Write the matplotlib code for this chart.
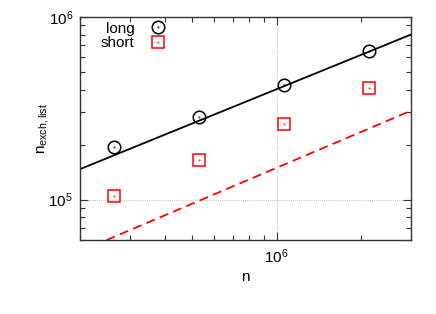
import numpy as np
import matplotlib
matplotlib.use("Agg")
import matplotlib.pyplot as plt
from matplotlib.ticker import LogLocator, NullFormatter

plt.rcParams['font.family'] = ['Liberation Sans', 'DejaVu Sans']
plt.rcParams['mathtext.default'] = 'regular'

# measured points
n_values = [2.65e5, 5.3e5, 1.06e6, 2.13e6]
long_counts = [1.93e5, 2.84e5, 4.25e5, 6.5e5]
short_counts = [1.047e5, 1.64e5, 2.58e5, 4.07e5]

# guide lines (end points)
guide_n = [2e5, 3e6]
long_guide = [1.467e5, 8.0e5]
short_guide = [5.2e4, 3.06e5]

fig = plt.figure(figsize=(4.36, 3.14), dpi=100)
ax = fig.add_axes([0.1835, 0.2357, 0.7585, 0.7102])

ax.plot(guide_n, long_guide, color='black', lw=1.3)
ax.plot(guide_n, short_guide, color='red', lw=1.3, dashes=(5, 3))

circles, = ax.plot(n_values, long_counts, 'o', ms=9, mfc='none', mec='black', mew=1.1)
circleDots, = ax.plot(n_values, long_counts, '.', ms=0.8, color='black')
squares, = ax.plot(n_values, short_counts, 's', ms=9, mfc='none', mec='red', mew=1.1)
squareDots, = ax.plot(n_values, short_counts, '.', ms=0.8, color='red')

ax.set_xscale('log')
ax.set_yscale('log')
ax.set_xlim(2e5, 3e6)
ax.set_ylim(6e4, 1e6)

ax.xaxis.set_major_locator(LogLocator(base=10))
ax.yaxis.set_major_locator(LogLocator(base=10))
ax.xaxis.set_minor_locator(LogLocator(base=10, subs=np.arange(2, 10)))
ax.yaxis.set_minor_locator(LogLocator(base=10, subs=np.arange(2, 10)))
ax.xaxis.set_minor_formatter(NullFormatter())
ax.yaxis.set_minor_formatter(NullFormatter())

ax.tick_params(which='both', direction='in', top=True, right=True,
               labelsize=11, color='#333333')
ax.tick_params(which='major', length=6, width=0.8, pad=5)
ax.tick_params(which='minor', length=3.5, width=0.8)
for spine in ax.spines.values():
    spine.set_color('#333333')
    spine.set_linewidth(1.0)

ax.grid(which='major', color='#aaaaaa', lw=0.6, linestyle=(0, (1, 1.5)))

ax.set_xlabel('n', fontsize=11, labelpad=3)
ax.set_ylabel(r'$n_{exch,list}$', fontsize=11, labelpad=-2)

ax.legend([(circles, circleDots), (squares, squareDots)], ['long', 'short'],
          loc='upper left', frameon=False, markerfirst=False, fontsize=11,
          bbox_to_anchor=(0.035, 1.02), handlelength=1.5, labelspacing=0.05,
          borderaxespad=0.2, handletextpad=0.8)

fig.savefig('out.png', dpi=100)
